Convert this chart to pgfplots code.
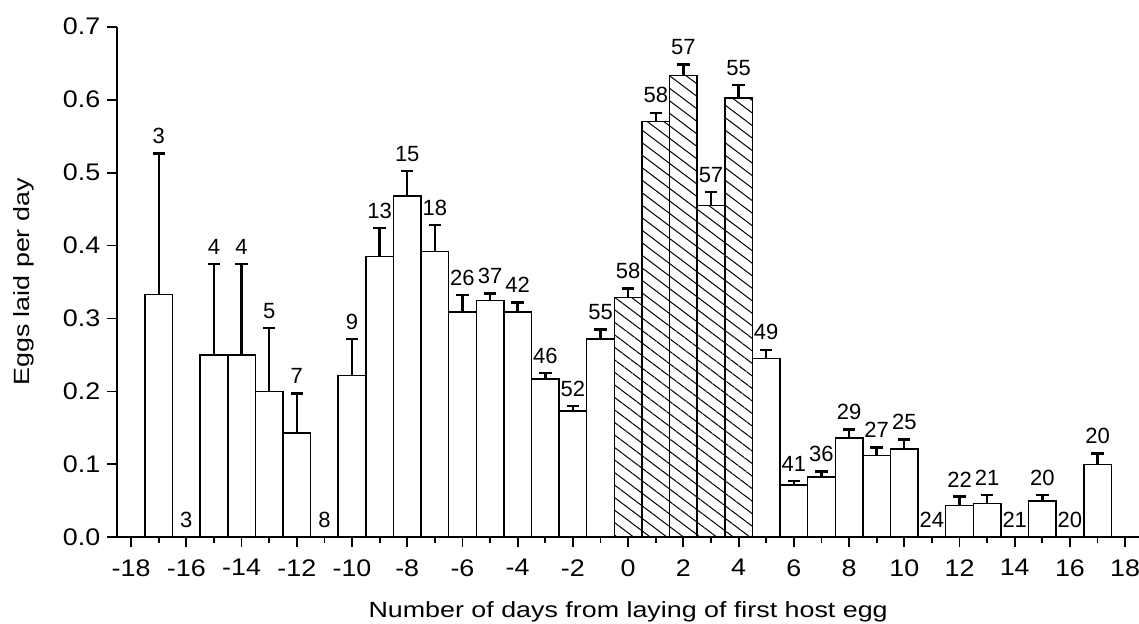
\documentclass[border=0pt]{standalone}
\usepackage{fontspec}
\setmainfont{Liberation Sans}
\newfontfamily\tickfont{Liberation Sans}[FakeStretch=1.12]
\newfontfamily\labelfont{Liberation Sans}[FakeStretch=1.22]
\usepackage{pgfplots}
\pgfplotsset{compat=1.18}
\usepackage{pgfplotstable}
\usetikzlibrary{patterns.meta}

\pgfplotstableread{
x y e
-17 0.333 0.193
-15 0.25 0.125
-14 0.25 0.125
-13 0.2 0.087
-12 0.143 0.054
-10 0.222 0.050
-9 0.385 0.039
-8 0.468 0.034
-7 0.392 0.036
-6 0.309 0.023
-5 0.325 0.009
-4 0.309 0.013
-3 0.217 0.008
-2 0.1735 0.0065
-1 0.272 0.013
5 0.245 0.012
6 0.0715 0.0055
7 0.083 0.007
8 0.136 0.012
9 0.112 0.011
10 0.121 0.013
12 0.0437 0.012
13 0.0464 0.0116
15 0.0496 0.0084
17 0.0998 0.015
}\whitebars

\pgfplotstableread{
x y e
0 0.329 0.012
1 0.570 0.012
2 0.633 0.015
3 0.455 0.018
4 0.602 0.018
}\hatchbars

\pgfplotstableread{
x t n
-17 0.526 3
-16 0 3
-15 0.375 4
-14 0.375 4
-13 0.287 5
-12 0.197 7
-11 0 8
-10 0.272 9
-9 0.424 13
-8 0.502 15
-7 0.428 18
-6 0.332 26
-5 0.334 37
-4 0.322 42
-3 0.225 46
-2 0.180 52
-1 0.285 55
0 0.341 58
1 0.582 58
2 0.648 57
3 0.473 57
4 0.620 55
5 0.257 49
6 0.077 41
7 0.090 36
8 0.148 29
9 0.123 27
10 0.134 25
11 0 24
12 0.0557 22
13 0.058 21
14 0 21
15 0.058 20
16 0 20
17 0.115 20
}\labels

\begin{document}
\begin{tikzpicture}
\begin{axis}[
  at={(0,0)}, anchor=south west,
  scale only axis, width=510.85pt, height=255.3pt,
  xmin=-18.5, xmax=18.5, ymin=0, ymax=0.7,
  axis on top,
  axis x line*=bottom, axis y line*=left,
  axis line style={line width=1pt, black},
  xtick={-18,-16,...,18},
  minor xtick={-17,-15,...,17},
  ytick={0,0.1,0.2,0.3,0.4,0.5,0.6,0.7},
  tick align=outside,
  major tick length=5pt, minor tick length=2.7pt,
  tick style={line width=0.9pt, black},
  /pgf/number format/assume math mode=true,
  yticklabel style={/pgf/number format/.cd, fixed, fixed zerofill, precision=1},
  ticklabel style={font=\tickfont\fontsize{12}{14}\selectfont},
  xticklabel style={yshift=-2.5pt},
  xlabel={Number of days from laying of first host egg},
  ylabel={Eggs laid per day},
  xlabel style={at={(axis description cs:0.5,-0.1567)}, anchor=base},
  ylabel style={at={(axis description cs:-0.0864,0.5)}, anchor=base},
  label style={font=\labelfont\fontsize{11}{13}\selectfont},
  clip=false,
]
\addplot[ybar, bar width=1, bar shift=0pt, fill=white, draw=black, line width=0.75pt,
  error bars/.cd, y dir=plus, y explicit, error mark=|,
  error bar style={line width=1.2pt},
  error mark options={line width=1.2pt, mark size=3.1pt}]
  table[x=x, y=y, y error=e] {\whitebars};
\addplot[ybar, bar width=1, bar shift=0pt, draw=black, line width=0.75pt,
  pattern={Lines[angle=-37, distance=5pt, line width=0.5pt]}, pattern color=black,
  error bars/.cd, y dir=plus, y explicit, error mark=|,
  error bar style={line width=1.2pt},
  error mark options={line width=1.2pt, mark size=3.1pt}]
  table[x=x, y=y, y error=e] {\hatchbars};
\addplot[draw=none, mark=none, nodes near coords, point meta=explicit symbolic,
  nodes near coords style={anchor=south, yshift=1.3pt, font=\fontsize{11}{13}\selectfont}]
  table[x=x, y=t, meta=n] {\labels};
\end{axis}
\pgfresetboundingbox
\path[use as bounding box] (-58.65pt,-42.85pt) rectangle (510.85pt,268.65pt);
\end{tikzpicture}
\end{document}
